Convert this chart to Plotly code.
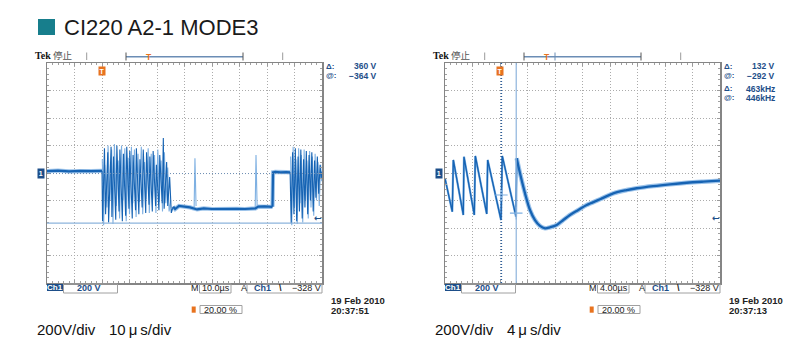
import plotly.graph_objects as go

# ---------------- data ----------------
# Left capture: 10 us/div, 200 V/div. Time in us from left screen edge, volts.
l_base_t = [0, 4, 8, 12, 16, 20.0]
l_base_v = [14, 18, 12, 16, 13, 15]

l_burst1_t = [20.0, 20.2, 20.9, 21.3, 22.1, 22.4, 23.3, 23.6, 24.2, 25.0, 25.4, 26.2, 26.5, 27.4, 27.8,
              28.6, 29.0, 29.8, 30.1, 31.0, 31.3, 32.2, 32.5, 33.4, 33.8, 34.6, 35.0, 35.9, 36.2, 37.1,
              37.4, 38.3, 38.6, 39.5, 39.8, 40.7, 41.0, 41.9, 42.3, 42.6, 43.5, 43.9, 44.6, 45.2, 45.9]
l_burst1_v = [15, -350, 180, -300, 150, -360, 190, -320, 120, -340, 200, -280, 170, -350, 140,
              -310, 190, -260, 160, -330, 130, -270, 180, -300, 100, -250, 170, -290, 150, -230,
              120, -280, 160, -240, 60, -270, 130, -220, 255, -260, 80, -240, -30, -290, -245]

l_burst1b_t = [20.1, 20.6, 21.0, 21.8, 22.2, 22.9, 23.5, 24.0, 24.5, 25.2, 25.9, 26.4, 27.1, 27.6, 28.3,
               28.8, 29.5, 30.0, 30.7, 31.2, 31.8, 32.4, 33.1, 33.6, 34.3, 34.8, 35.5, 36.0, 36.8, 37.2,
               37.9, 38.4, 39.1, 39.6, 40.3, 40.8, 41.5, 42.0, 42.7, 43.2, 43.9, 44.4, 45.0]
l_burst1b_v = [100, -380, 60, -250, 200, -200, 170, -370, 210, -240, 90, -330, 200, -200, 180,
               -350, 110, -300, 190, -220, 170, -320, 140, -210, 190, -300, 80, -190, 180, -290,
               140, -200, 130, -290, 170, -210, 90, -280, 150, -220, 40, -280, -200]

l_low_t = [45.9, 46.6, 48, 50, 52, 54.6, 57, 60, 63, 66, 69, 72, 75.8, 76.8, 79, 82.0]
l_low_v = [-245, -262, -240, -244, -250, -265, -258, -262, -260, -263, -260, -262, -258, -245, -243, -246]

l_spike_a_t = [53.5, 53.8, 54.2]
l_spike_a_v = [-255, 107, -240]
l_spike_b_t = [75.7, 76.0, 76.4]
l_spike_b_v = [-258, 131, -235]

l_mid_t = [82.0, 82.2, 83, 85, 87, 88.4]
l_mid_v = [-246, 5, 8, 4, 7, 5]

l_burst2_t = [88.4, 88.8, 89.3, 89.8, 90.3, 90.8, 91.3, 91.8, 92.3, 92.8, 93.3, 93.8, 94.3, 94.8, 95.3,
              95.8, 96.3, 96.8, 97.3, 97.8, 98.3, 98.8, 99.3, 99.7, 100]
l_burst2_v = [5, -365, 150, -300, 180, -350, 120, -280, 170, -330, 100, -250, 160, -300, 130,
              -200, 150, -280, 90, -180, 120, -150, 60, -40, 10]

l_burst2b_t = [88.6, 89.0, 89.5, 90.0, 90.5, 91.0, 91.5, 92.0, 92.5, 93.0, 93.5, 94.0, 94.5, 95.0,
               95.5, 96.0, 96.5, 97.0, 97.5, 98.0, 98.5, 99.0, 99.5, 99.9]
l_burst2b_v = [120, -380, 190, -250, 100, -370, 180, -220, 130, -360, 170, -200, 90, -330,
               160, -250, 120, -310, 140, -200, 80, -240, 60, -60]

l_cursor_v = [-4, -364]      # horizontal cursors (V)
l_trigger_level = -328

# Right capture: 4 us/div, 200 V/div
r_teeth_t = [0, 1.06, 1.21, 2.66, 2.76, 4.26, 4.41, 6.07, 6.21, 8.15, 8.33, 10.33, 10.43]
r_teeth_v = [-40, -281, 95, -305, 118, -305, 124, -298, 95, -342, 124, -318, 107]

r_decay_t = [10.43, 10.91, 11.64, 12.36, 13.09, 13.82, 14.55, 15.27, 16.25, 17.21, 18.18, 19.39,
             20.61, 22.55, 24.48, 26.43, 27.88, 30.3, 32.73, 35.15, 37.57, 40]
r_decay_v = [107, -2, -148, -269, -342, -385, -402, -395, -378, -342, -305, -269,
             -233, -191, -148, -124, -111, -95, -82, -71, -63, -56]

r_cursor_t = [8.2, 10.36]     # vertical cursors (us)
r_cursor_v = [-160, -292]     # cursor crossing levels (V)
r_trigger_level = -328

panels = [
    dict(bx=47, tdiv="10.0µs", date="19 Feb 2010", time="20:37:51",
         rd=[("Δ:", "360 V"), ("@:", "−364 V")], cap="10\u2009μ\u2009s/div", cap_x=108, trig_t=20),
    dict(bx=445, tdiv="4.00µs", date="19 Feb 2010", time="20:37:13",
         rd=[("Δ:", "132 V"), ("@:", "−292 V"), ("Δ:", "463kHz"), ("@:", "446kHz")],
         cap="4\u2009μ\u2009s/div", cap_x=506, trig_t=8),
]

# ---------------- figure ----------------
W, H = 800, 360
def X(px): return px / W
def Y(py): return 1 - py / H

DARK = "#1663b3"
LIGHT = "#7eb0e2"
HALO = "#9cc3ea"
TEKBLUE = "#1d4e89"
ORANGE = "#e8731f"

fig = go.Figure()

def line(t, v, color, width, xa, ya, shape="linear"):
    fig.add_trace(go.Scatter(x=t, y=v, mode="lines", line=dict(color=color, width=width, shape=shape),
                             xaxis=xa, yaxis=ya, hoverinfo="skip", showlegend=False))

# left traces
flats = [(l_base_t, l_base_v), (l_low_t, l_low_v), (l_mid_t, l_mid_v)]
for t, v in flats:
    line(t, v, HALO, 4.2, "x", "y")
for t, v in [(l_burst1b_t, l_burst1b_v), (l_burst2b_t, l_burst2b_v), (l_spike_a_t, l_spike_a_v),
             (l_spike_b_t, l_spike_b_v)]:
    line(t, v, LIGHT, 1.1, "x", "y")
for t, v in [(l_burst1_t, l_burst1_v), (l_burst2_t, l_burst2_v)]:
    line(t, v, DARK, 1.1, "x", "y")
for t, v in flats:
    line(t, v, DARK, 2.2, "x", "y")

# right traces
line(r_decay_t, r_decay_v, HALO, 4.5, "x2", "y2", "spline")
line(r_teeth_t, r_teeth_v, LIGHT, 2.2, "x2", "y2")
line(r_teeth_t, r_teeth_v, DARK, 1.3, "x2", "y2")
line(r_decay_t, r_decay_v, DARK, 2.3, "x2", "y2", "spline")
fig.add_trace(go.Scatter(x=r_cursor_t, y=r_cursor_v, mode="markers",
                         marker=dict(symbol="cross-thin", size=9, line=dict(color=LIGHT, width=1.2)),
                         xaxis="x2", yaxis="y2", hoverinfo="skip", showlegend=False))

axis_common = dict(showgrid=True, gridcolor="#ababab", griddash="1px,2px", gridwidth=1,
                   showline=True, linecolor="#858585", linewidth=1.5, mirror="allticks",
                   ticks="inside", ticklen=3, tickcolor="#9a9a9a", tickwidth=1,
                   showticklabels=False, zeroline=False, fixedrange=True)

ydom = [Y(283), Y(63)]
fig.update_layout(
    width=W, height=H, margin=dict(l=0, r=0, t=0, b=0),
    paper_bgcolor="white", plot_bgcolor="white",
    xaxis=dict(domain=[X(47), X(322)], range=[0, 100], dtick=10, anchor="y",
               minor=dict(dtick=2, ticks="inside", ticklen=2, tickcolor="#a0a0a0"), **axis_common),
    yaxis=dict(domain=ydom, range=[-800, 800], dtick=200, anchor="x",
               minor=dict(dtick=40, ticks="inside", ticklen=2, tickcolor="#a0a0a0"), **axis_common),
    xaxis2=dict(domain=[X(445), X(720)], range=[0, 40], dtick=4, anchor="y2",
                minor=dict(dtick=0.8, ticks="inside", ticklen=2, tickcolor="#a0a0a0"), **axis_common),
    yaxis2=dict(domain=ydom, range=[-800, 800], dtick=200, anchor="x2",
                minor=dict(dtick=40, ticks="inside", ticklen=2, tickcolor="#a0a0a0"), **axis_common),
)

shapes = []
ann = []
SANS = "Liberation Sans, Arial, sans-serif"

def txt(px, py, s, size=9, color="#1a1a1a", xanchor="left", bold=False, family=SANS, xv=None):
    ann.append(dict(x=xv if xv is not None else X(px), y=Y(py),
                    xref="paper", yref="paper", text=(f"<b>{s}</b>" if bold else s), showarrow=False,
                    xanchor=xanchor, yanchor="middle", font=dict(size=size, color=color, family=family),
                    borderpad=0))

def rect(x0, y0, x1, y1, fill=None, lc=None, lw=1):
    shapes.append(dict(type="rect", xref="paper", yref="paper", x0=X(x0), x1=X(x1), y0=Y(y1), y1=Y(y0),
                       fillcolor=fill if fill else "rgba(0,0,0,0)",
                       line=dict(color=lc if lc else "rgba(0,0,0,0)", width=lw if lc else 0), layer="above"))

def seg(x0, y0, x1, y1, color, w=1, dash="solid"):
    shapes.append(dict(type="line", xref="paper", yref="paper", x0=X(x0), x1=X(x1), y0=Y(y0), y1=Y(y1),
                       line=dict(color=color, width=w, dash=dash)))

# title
rect(38, 19, 55, 35, fill="#177e8c")
txt(63, 27.5, "CI220 A2-1 MODE3", size=22, color="#1a1a1a")

# cursors
shapes.append(dict(type="line", xref="x domain", yref="y", x0=0, x1=1, y0=l_cursor_v[1], y1=l_cursor_v[1],
                   line=dict(color="#8db4dc", width=1.2)))
shapes.append(dict(type="line", xref="x domain", yref="y", x0=0, x1=1, y0=l_cursor_v[0], y1=l_cursor_v[0],
                   line=dict(color="#6f8fb5", width=1, dash="1px,2px")))
shapes.append(dict(type="line", xref="x2", yref="y2 domain", x0=r_cursor_t[0], x1=r_cursor_t[0], y0=0, y1=1,
                   line=dict(color="#2a5f9e", width=1.5, dash="1px,2px")))
shapes.append(dict(type="line", xref="x2", yref="y2 domain", x0=r_cursor_t[1], x1=r_cursor_t[1], y0=0, y1=1,
                   line=dict(color="#8db4dc", width=1.2)))

for i, p in enumerate(panels):
    bx = p["bx"]
    xa = "x" if i == 0 else "x2"
    ya = "y" if i == 0 else "y2"
    # header
    txt(bx - 13, 55, "<b>Tek</b>", size=10, color="#111", family="Liberation Serif, serif")
    txt(bx + 5, 55, "停止", size=9.5, color="#555", family="Noto Sans CJK JP")
    seg(bx + 39.7, 52.5, bx + 39.7, 60, "#9a9a9a")
    seg(bx + 235.7, 52.5, bx + 235.7, 60, "#9a9a9a")
    seg(bx + 79, 56.7, bx + 196, 56.7, "#6b8db5", 1.6)
    seg(bx + 79, 52.5, bx + 79, 60.5, "#555", 1)
    seg(bx + 196, 52.5, bx + 196, 60.5, "#555", 1)
    if i == 1:
        seg(bx + 110, 52.5, bx + 110, 60.5, "#6b8db5", 1)
    txt(0, 56.5, "T", size=8.5, color=ORANGE, xanchor="center", bold=True, xv=X(bx + 101.5))
    # trigger marker inside grid
    ann.append(dict(x=p["trig_t"], xref=xa, y=Y(71), yref="paper", text="<b>T</b>", showarrow=False,
                    xanchor="center", yanchor="middle", bgcolor=ORANGE, borderpad=0.5,
                    font=dict(size=7, color="white", family=SANS)))
    # ground marker
    ann.append(dict(x=X(bx - 6.5), xref="paper", y=0, yref=ya, text="<b>1</b>", showarrow=False,
                    xanchor="center", yanchor="middle", bgcolor=TEKBLUE, borderpad=0.8,
                    font=dict(size=7, color="white", family=SANS)))
    # trigger level arrow
    lvl = l_trigger_level if i == 0 else r_trigger_level
    ann.append(dict(x=X(bx + 271), xref="paper", y=lvl, yref=ya, text="<b>←</b>", showarrow=False,
                    xanchor="center", yanchor="middle",
                    font=dict(size=9, color=TEKBLUE, family="DejaVu Sans")))
    # readouts
    ys = [66, 75.5, 88.5, 98]
    for (lab, val), yy in zip(p["rd"], ys):
        txt(bx + 278, yy, lab, size=8, color=TEKBLUE, bold=True)
        txt(bx + 331, yy, val, size=8.5, color=TEKBLUE, bold=True, xanchor="right")
    # status bar
    rect(bx, 284, bx + 16.5, 291, fill=TEKBLUE)
    txt(0, 287.6, "Ch1", size=8, color="white", bold=True, xanchor="center", xv=X(bx + 8.25))
    rect(bx + 16.5, 284, bx + 70.5, 293, lc="#a0a0a0")
    txt(bx + 28.5, 288.3, "200 V", size=9, color=TEKBLUE, bold=True)
    txt(bx + 142.5, 288.3, "M", size=9, color="#222")
    rect(bx + 152.5, 284, bx + 184, 293, lc="#a0a0a0")
    txt(bx + 154, 288.3, p["tdiv"], size=9, color="#222")
    txt(bx + 192.5, 288.3, "A", size=9, color="#222")
    rect(bx + 200, 284, bx + 275, 293, lc="#a0a0a0")
    txt(bx + 205.5, 288.3, "Ch1", size=9, color=TEKBLUE, bold=True)
    txt(bx + 230.5, 288.3, "\\", size=9, color="#222", bold=True)
    txt(bx + 274.5, 288.3, "−328 V", size=9, color="#222", xanchor="right")
    txt(bx + 282.5, 300.5, p["date"], size=9.5, color="#222", bold=True)
    txt(bx + 282.5, 310, p["time"], size=9.5, color="#222", bold=True)
    rect(bx + 144.7, 306.5, bx + 148.7, 312.7, fill=ORANGE)
    rect(bx + 153, 305.5, bx + 195, 313.5, lc="#a0a0a0")
    txt(bx + 155.5, 309.8, "20.00 %", size=9, color="#222")
    # caption
    txt(bx - 11.5, 329.5, "200V/div", size=15, color="#111")
    txt(p["cap_x"] - 0.5, 329.5, p["cap"], size=15, color="#111")

fig.update_layout(shapes=shapes, annotations=ann)
fig.write_html("out.html", config={"displayModeBar": False, "staticPlot": True},
               post_script="document.body.style.margin='0';document.body.style.padding='0';")
